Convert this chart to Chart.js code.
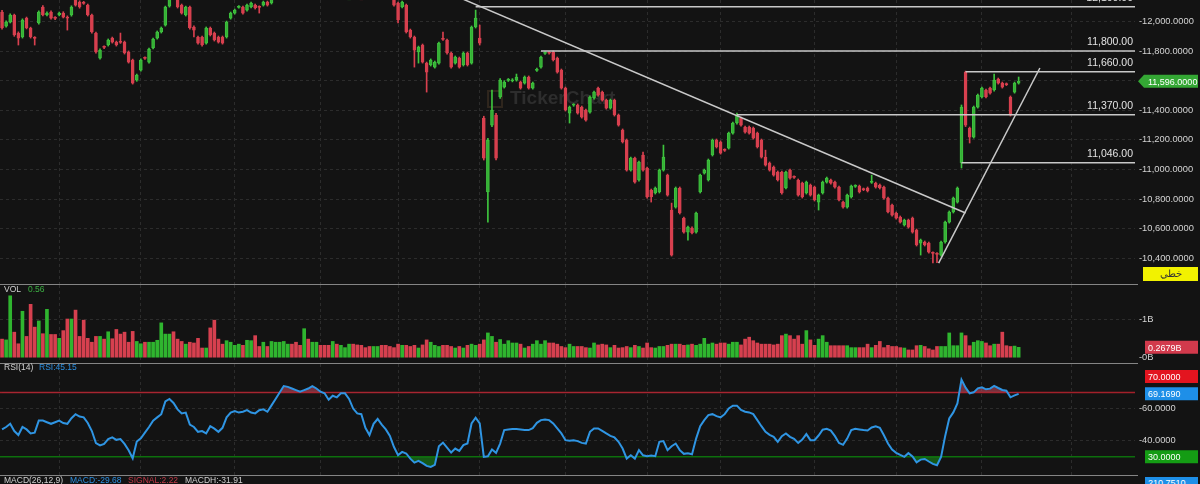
<!DOCTYPE html>
<html lang="ar">
<head>
<meta charset="utf-8">
<title>Price chart</title>
<script src="https://cdn.jsdelivr.net/npm/chart.js@4.4.1/dist/chart.umd.min.js"></script>
<style>
  html, body { margin: 0; padding: 0; background: #131313; }
  body { width: 1200px; height: 484px; position: relative; overflow: hidden; font-family: 'Liberation Sans', Arial, sans-serif; }
  canvas { position: absolute; left: 0; }
  .sep { position: absolute; left: 0; width: 1138px; height: 1px; background: #858585; }
  .hdr { position: absolute; font-size: 8.5px; line-height: 12px; color: #d0d0d0; white-space: nowrap; }
  .tag { position: absolute; left: 1145px; width: 50px; height: 13px; padding-left: 3px; font-size: 9px; line-height: 13px; color: #fff; }
</style>
</head>
<body>
<canvas id="priceChart" width="1200" height="284" style="top:0"></canvas>
<canvas id="volChart" width="1200" height="78" style="top:285px"></canvas>
<canvas id="rsiChart" width="1200" height="111" style="top:364px"></canvas>
<div class="sep" style="top:284px"></div>
<div class="sep" style="top:363px"></div>
<div class="sep" style="top:475px"></div>
<div class="hdr" style="left:4px;top:283px">VOL</div>
<div class="hdr" style="left:28px;top:283px;color:#3cb043">0.56</div>
<div class="hdr" style="left:4px;top:361px">RSI(14)</div>
<div class="hdr" style="left:39px;top:361px;color:#2d8fe0">RSI:45.15</div>
<div class="hdr" style="left:4px;top:474px">MACD(26,12,9)</div>
<div class="hdr" style="left:70px;top:474px;color:#2d8fe0">MACD:-29.68</div>
<div class="hdr" style="left:128px;top:474px;color:#c23a48">SIGNAL:2.22</div>
<div class="hdr" style="left:185px;top:474px">MACDH:-31.91</div>
<div class="tag" style="top:477px;background:#1e8fe8">210.7510</div>
<script>
// candles, oldest first
const opens = [
  12064, 11969, 11996, 12044, 11922, 11895, 12023, 11956, 11891, 11990,
  12098, 12044, 12064, 12025, 12044, 12057, 12030, 12044, 12150, 12131,
  12127, 12111, 12044, 11922, 11753, 11829, 11841, 11888, 11861, 11863,
  11861, 11794, 11740, 11604, 11672, 11755, 11726, 11821, 11888, 11929,
  11976, 12104, 12200, 12150, 12111, 12044, 12098, 11963, 11895, 11895,
  11854, 11956, 11922, 11895, 11895, 11895, 12023, 12057, 12096, 12098,
  12077, 12098, 12111, 12099, 12111, 12131, 12125, 12155, 12210, 12265,
  12320, 12345, 12325, 12305, 12290, 12340, 12325, 12375, 12395, 12370,
  12355, 12320, 12350, 12340, 12365, 12380, 12385, 12330, 12300, 12295,
  12250, 12205, 12250, 12280, 12255, 12220, 12170, 12125, 12098, 12111,
  11942, 11895, 11794, 11841, 11719, 11706, 11692, 11719, 11883, 11875,
  11787, 11719, 11753, 11706, 11787, 11719, 11963, 11888, 11348, 10848,
  11300, 11368, 11490, 11557, 11602, 11600, 11604, 11591, 11584, 11625,
  11550, 11670, 11692, 11785, 11790, 11794, 11753, 11672, 11550, 11381,
  11434, 11436, 11422, 11402, 11388, 11483, 11550, 11523, 11469, 11415,
  11469, 11368, 11267, 11199, 10996, 11077, 10929, 11098, 11010, 10861,
  10841, 10848, 10996, 10962, 10726, 10746, 10875, 10672, 10577, 10605,
  10577, 10848, 10976, 10929, 11098, 11199, 11186, 11133, 11145, 11246,
  11314, 11348, 11287, 11287, 11280, 11246, 11199, 11084, 11044, 11017,
  10983, 10983, 10875, 10996, 10951, 10929, 10908, 10841, 10895, 10881,
  10780, 10841, 10915, 10929, 10915, 10881, 10780, 10746, 10814, 10886,
  10888, 10868, 10875, 10913, 10908, 10895, 10881, 10807, 10760, 10706,
  10679, 10625, 10658, 10672, 10591, 10503, 10510, 10503, 10437, 10431,
  10422, 10510, 10645, 10713, 10780, 11044, 11658, 11280, 11219, 11422,
  11490, 11537, 11550, 11537, 11611, 11584, 11578, 11490, 11523, 11584
];
const highs = [
  12075, 12004, 12052, 12050, 11930, 12018, 12030, 11962, 11898, 12072,
  12108, 12066, 12072, 12034, 12064, 12066, 12038, 12106, 12160, 12140,
  12136, 12118, 12050, 11929, 11815, 11836, 11882, 11895, 11868, 11922,
  11868, 11801, 11746, 11645, 11747, 11762, 11821, 11888, 11936, 11963,
  12104, 12170, 12215, 12165, 12118, 12104, 12104, 11970, 11902, 11902,
  11963, 11963, 11929, 11902, 11902, 12003, 12064, 12084, 12108, 12104,
  12118, 12132, 12118, 12106, 12138, 12138, 12160, 12220, 12280, 12340,
  12355, 12350, 12330, 12310, 12350, 12345, 12390, 12405, 12400, 12375,
  12360, 12360, 12355, 12375, 12390, 12395, 12390, 12335, 12310, 12300,
  12255, 12260, 12290, 12285, 12260, 12225, 12180, 12132, 12138, 12118,
  11949, 11902, 11834, 11848, 11726, 11747, 11733, 11861, 11929, 11882,
  11794, 11767, 11760, 11794, 11794, 11970, 12077, 11976, 11360, 11210,
  11537, 11380, 11615, 11600, 11615, 11614, 11645, 11598, 11632, 11632,
  11591, 11686, 11767, 11796, 11797, 11801, 11760, 11679, 11557, 11429,
  11445, 11443, 11429, 11409, 11497, 11530, 11557, 11530, 11476, 11476,
  11476, 11375, 11274, 11206, 11084, 11084, 11057, 11118, 11017, 10868,
  10882, 11003, 11165, 10969, 10773, 10882, 10882, 10679, 10618, 10612,
  10713, 10969, 11003, 11071, 11206, 11206, 11193, 11140, 11253, 11321,
  11381, 11355, 11294, 11294, 11287, 11253, 11206, 11131, 11051, 11024,
  10990, 10990, 10990, 11003, 10958, 10936, 10915, 10922, 10902, 10888,
  10834, 10922, 10949, 10936, 10922, 10888, 10787, 10834, 10895, 10897,
  10895, 10875, 10882, 10962, 10915, 10902, 10888, 10814, 10767, 10713,
  10686, 10665, 10665, 10679, 10598, 10530, 10517, 10510, 10444, 10438,
  10517, 10652, 10720, 10814, 10882, 11436, 11665, 11287, 11429, 11510,
  11557, 11544, 11557, 11645, 11618, 11591, 11585, 11497, 11591, 11625
];
const lows = [
  11948, 11962, 11990, 11900, 11841, 11888, 11950, 11888, 11841, 11982,
  12038, 12037, 12016, 12012, 12038, 12024, 11942, 12036, 12104, 12090,
  12116, 12037, 11921, 11786, 11745, 11816, 11834, 11854, 11834, 11852,
  11780, 11719, 11577, 11596, 11665, 11744, 11719, 11814, 11881, 11922,
  11969, 12097, 12158, 12091, 12050, 12037, 11949, 11895, 11847, 11834,
  11847, 11902, 11868, 11854, 11847, 11888, 12016, 12050, 12090, 12050,
  12070, 12091, 12084, 12057, 12104, 12104, 12118, 12165, 12200, 12255,
  12310, 12310, 12290, 12280, 12285, 12315, 12318, 12365, 12360, 12345,
  12310, 12312, 12330, 12332, 12358, 12372, 12322, 12290, 12285, 12240,
  12195, 12198, 12245, 12248, 12212, 12172, 12104, 11990, 12091, 11922,
  11888, 11692, 11719, 11719, 11523, 11699, 11685, 11712, 11872, 11780,
  11685, 11712, 11685, 11699, 11699, 11712, 11956, 11841, 11064, 10645,
  11290, 11064, 11480, 11550, 11595, 11592, 11597, 11543, 11577, 11543,
  11543, 11662, 11685, 11778, 11779, 11733, 11651, 11543, 11395, 11314,
  11427, 11374, 11347, 11327, 11381, 11476, 11496, 11462, 11408, 11408,
  11361, 11293, 11179, 10989, 10989, 10908, 10922, 10989, 10807, 10780,
  10834, 10841, 10989, 10820, 10415, 10739, 10699, 10570, 10523, 10564,
  10570, 10841, 10969, 10922, 11091, 11145, 11104, 11122, 11138, 11239,
  11307, 11293, 11246, 11239, 11205, 11145, 11077, 11023, 10989, 10955,
  10922, 10834, 10868, 10935, 10940, 10820, 10807, 10834, 10820, 10787,
  10726, 10834, 10908, 10901, 10874, 10787, 10739, 10739, 10807, 10879,
  10841, 10857, 10848, 10906, 10874, 10868, 10800, 10706, 10685, 10665,
  10638, 10618, 10604, 10570, 10483, 10422, 10483, 10435, 10368, 10370,
  10415, 10503, 10638, 10706, 10773, 11010, 11290, 11179, 11212, 11415,
  11483, 11483, 11509, 11530, 11577, 11550, 11567, 11361, 11516, 11577
];
const closes = [
  11956, 11996, 12044, 11909, 11888, 12010, 11956, 11895, 11886, 12064,
  12044, 12057, 12023, 12021, 12057, 12030, 12023, 12098, 12111, 12098,
  12123, 12044, 11929, 11794, 11807, 11825, 11875, 11861, 11841, 11859,
  11787, 11726, 11584, 11638, 11740, 11751, 11814, 11881, 11929, 11956,
  12098, 12155, 12165, 12098, 12057, 12098, 11956, 11942, 11854, 11841,
  11956, 11909, 11875, 11861, 11854, 11996, 12057, 12077, 12100, 12057,
  12111, 12125, 12091, 12095, 12131, 12111, 12150, 12210, 12270, 12330,
  12345, 12320, 12300, 12290, 12340, 12325, 12380, 12395, 12370, 12355,
  12320, 12350, 12340, 12365, 12380, 12385, 12330, 12300, 12295, 12250,
  12205, 12250, 12280, 12255, 12220, 12180, 12111, 12010, 12131, 11929,
  11895, 11807, 11827, 11726, 11658, 11740, 11726, 11854, 11879, 11787,
  11692, 11760, 11692, 11787, 11706, 11963, 12023, 11854, 11077, 11199,
  11402, 11077, 11604, 11591, 11606, 11605, 11625, 11550, 11625, 11550,
  11584, 11674, 11760, 11789, 11786, 11740, 11658, 11550, 11402, 11422,
  11438, 11381, 11354, 11334, 11490, 11523, 11503, 11469, 11415, 11469,
  11368, 11300, 11186, 10996, 11077, 10915, 11050, 10996, 10814, 10814,
  10875, 10996, 11084, 10827, 10422, 10875, 10706, 10577, 10611, 10571,
  10706, 10962, 10996, 11064, 11199, 11152, 11111, 11129, 11246, 11314,
  11368, 11300, 11253, 11246, 11212, 11152, 11084, 11030, 10996, 10962,
  10929, 10841, 10983, 10942, 10947, 10827, 10814, 10915, 10827, 10794,
  10827, 10915, 10942, 10908, 10881, 10794, 10746, 10827, 10888, 10890,
  10848, 10864, 10855, 10917, 10881, 10875, 10807, 10713, 10692, 10672,
  10645, 10658, 10611, 10577, 10490, 10523, 10490, 10442, 10433, 10427,
  10510, 10645, 10713, 10807, 10875, 11422, 11300, 11219, 11422, 11503,
  11550, 11490, 11516, 11604, 11584, 11557, 11574, 11368, 11584, 11596
];
// volume in billions
const volumes = [
  0.48, 0.46, 1.6, 0.66, 0.36, 1.2, 0.55, 1.38, 0.79, 0.95,
  0.62, 1.25, 0.6, 0.6, 0.5, 0.7, 1.0, 1.0, 1.23, 0.55,
  0.97, 0.5, 0.4, 0.55, 0.55, 0.48, 0.67, 0.49, 0.73, 0.61,
  0.66, 0.4, 0.68, 0.42, 0.36, 0.4, 0.4, 0.4, 0.45, 0.9,
  0.61, 0.61, 0.67, 0.48, 0.42, 0.35, 0.4, 0.38, 0.5, 0.25,
  0.25, 0.77, 0.97, 0.48, 0.35, 0.44, 0.4, 0.32, 0.35, 0.32,
  0.45, 0.44, 0.57, 0.29, 0.4, 0.29, 0.42, 0.4, 0.4, 0.42,
  0.35, 0.35, 0.4, 0.32, 0.75, 0.48, 0.4, 0.4, 0.32, 0.32,
  0.32, 0.42, 0.35, 0.32, 0.26, 0.35, 0.35, 0.33, 0.32, 0.26,
  0.29, 0.29, 0.29, 0.32, 0.32, 0.29, 0.26, 0.35,
  0.32, 0.32, 0.29, 0.32, 0.25, 0.33, 0.46, 0.4, 0.32, 0.29,
  0.32, 0.32, 0.29, 0.25, 0.29, 0.25, 0.32, 0.35, 0.32, 0.35,
  0.46, 0.64, 0.55, 0.4, 0.47, 0.35, 0.44, 0.38, 0.38, 0.35,
  0.25, 0.29, 0.35, 0.44, 0.35, 0.44, 0.38, 0.38, 0.35, 0.29,
  0.26, 0.35, 0.29, 0.29, 0.29, 0.26, 0.25, 0.38, 0.33, 0.35,
  0.33, 0.26, 0.32, 0.25, 0.26, 0.29, 0.26, 0.32, 0.29, 0.25,
  0.38, 0.26, 0.25, 0.29, 0.29, 0.32, 0.35, 0.35, 0.35, 0.32,
  0.33, 0.35, 0.32, 0.35, 0.5, 0.35, 0.38, 0.35, 0.38, 0.38,
  0.35, 0.4, 0.4, 0.33, 0.48, 0.53, 0.44, 0.38, 0.35, 0.35,
  0.35, 0.33, 0.35,
  0.57, 0.61, 0.57, 0.48, 0.57, 0.35, 0.7, 0.46, 0.32, 0.48,
  0.57, 0.4, 0.31, 0.31, 0.31, 0.31, 0.31, 0.26, 0.26, 0.26,
  0.26, 0.35, 0.26, 0.32, 0.42, 0.26, 0.32, 0.29, 0.29, 0.26,
  0.25, 0.2, 0.2, 0.31, 0.32, 0.29, 0.23, 0.2, 0.29, 0.29,
  0.29, 0.64, 0.31, 0.31, 0.64, 0.57, 0.31, 0.4, 0.44, 0.42,
  0.38, 0.31, 0.35, 0.35, 0.66, 0.31, 0.29, 0.3, 0.2679
];
const rsi = [
  47, 48.5, 50.5, 46, 43.5, 48.5, 47, 44.5, 45, 52.5,
  52.5, 51.5, 50.5, 51.5, 52.5, 51, 50.5, 54, 56.5, 55,
  54.5, 51, 46, 38.5, 37, 38, 41, 42, 40.5, 41,
  38, 34, 29, 39.5, 41.5, 45, 48.5, 52.5, 54.5, 56.5,
  64.5, 66, 63.5, 59.5, 57, 57.5, 50, 48.5, 45.5, 46,
  44.5, 49, 47.5, 45.5, 48, 54.5, 57.5, 58.5, 57.5, 58,
  59, 57.5, 57, 59, 59.5, 58, 62, 66, 70, 74,
  73.5, 72.5, 71.5, 70.5, 71.5, 72.5, 74, 72.5, 70.5, 69.5,
  65.5, 68, 67, 69.5, 69.5, 66, 60, 57, 56.5, 48,
  43.5, 50.5, 53.5, 50, 47, 43, 36, 31,
  33, 32, 28.8, 26.3, 27.4, 26, 24.3, 23.6, 24.9, 36.5,
  38.8, 35.7, 32.6, 35.1, 33.6, 37.2, 38.2, 50.7, 54.3, 50.7,
  29.9, 30.3, 34.5, 32.4, 38.2, 46.6, 47, 47.2, 47.2, 47,
  46.6, 46.6, 47.8, 51.1, 52.8, 53.2, 52.8, 50.7, 47.6, 44.5,
  40.3, 39.9, 40.3, 39.7, 38.6, 38.2, 45.5, 47.6, 47.6, 46.1,
  44.5, 43, 42, 39.3, 35.1, 28.8, 30.9, 28.8, 34.1, 30.9,
  30.3, 30.7, 30.3, 39.3, 39.7, 34.1, 36.5, 38.2, 34.1, 31.8,
  32.2, 31.5, 41.3, 49, 52.8, 55.9, 56.5, 55.3, 54.5, 56.5,
  60.1, 61.8, 61.8, 59.1, 58, 57.6, 56.5, 52.8, 49, 45.5,
  43.6, 42.4, 39.3, 42.8, 44.5, 42.4, 41.1, 38.6,
  40.7, 44.1, 40.3, 40.3, 43.2, 46.8, 47.4, 46.3, 42.8, 38.6,
  37.4, 41.3, 46.6, 47.4, 47, 46.6, 46.3, 48.2, 49, 48,
  43.4, 38.2, 34.5, 32.4, 31.1, 29.9, 32.2, 30.1, 26.5, 28.2,
  28.6, 27, 25.5, 24.7, 29.9, 42.8, 53.8, 57.6, 63.2, 78,
  73, 69.5, 70.1, 72.6, 73.2, 72, 72.4, 74.1, 72.8, 71.6,
  71.1, 67, 68.2, 69.169
];

// tick labels and drawn levels
const priceTicks = [10400, 10600, 10800, 11000, 11200, 11400, 11600, 11800, 12000];
const volTicks = [0, 1];
const rsiTicks = [40, 60];
const rsiBands = [70, 30];
const levels = [12100, 11800, 11660, 11370, 11046];
const levelFrom = [116, 132, 236, 180, 235];          // candle where each level starts
const trendLines = [[113, 12150, 236, 10706], [229.4, 10368, 254.2, 11686]];
const gridIdx = [14, 34, 57, 78, 97, 117, 138, 158, 176, 199, 219, 240, 262];

const SLOTS = 278;   // empty room on the right of the last candle
const labels = Array.from({ length: SLOTS }, (_, i) => String(i));
const N = closes.length;

const FONT = "'Liberation Sans', Arial, sans-serif";
const GRID = '#2c2c2c';
const UP = '#3ec43e', DOWN = '#d8404f';
const LINE = '#c9c9c9';
Chart.defaults.font.family = FONT;

const up = closes.map((c, i) => c >= opens[i]);
const fmt = (v, d) => v.toLocaleString('en-US', { minimumFractionDigits: d, maximumFractionDigits: d });

const xAxis = () => ({
  type: 'category',
  offset: true,
  grid: { display: true, offset: false, color: GRID, drawTicks: false },
  border: { display: false, dash: [3, 3] },
  ticks: { display: false },
  afterBuildTicks: a => { a.ticks = gridIdx.map(v => ({ value: v })); },
  afterFit: a => { a.height = 0; a.paddingLeft = 0; a.paddingRight = 0; }
});

const yAxis = (min, max, ticks, label, gridColor) => ({
  position: 'right',
  min, max,
  afterBuildTicks: a => { a.ticks = ticks.map(v => ({ value: v })); },
  afterFit: a => { a.width = 65; a.paddingTop = 0; a.paddingBottom = 0; },
  grid: { color: gridColor || GRID, drawTicks: false },
  border: { display: false, dash: [3, 3] },
  ticks: { color: '#d4d4d4', padding: 4, font: { size: 9.3 }, callback: label }
});

const baseOptions = (scales) => ({
  responsive: false,
  animation: false,
  events: [],
  layout: { padding: 0 },
  plugins: { legend: { display: false }, tooltip: { enabled: false } },
  scales
});

function drawTag(ctx, x, y, text, bg, fg, arrow) {
  const h = 13, w = 53;
  ctx.save();
  ctx.fillStyle = bg;
  ctx.beginPath();
  if (arrow) {
    ctx.moveTo(x - 7, y);
    ctx.lineTo(x - 1, y - h / 2);
  } else {
    ctx.moveTo(x, y - h / 2);
  }
  ctx.lineTo(x + w, y - h / 2);
  ctx.lineTo(x + w, y + h / 2);
  ctx.lineTo(arrow ? x - 1 : x, y + h / 2);
  ctx.closePath();
  ctx.fill();
  ctx.fillStyle = fg;
  ctx.font = `9px ${FONT}`;
  ctx.textBaseline = 'middle';
  ctx.fillText(text, x + 3, y + 1);
  ctx.restore();
}

const priceOverlay = {
  id: 'priceOverlay',
  beforeDatasetsDraw(chart) {
    const { ctx, chartArea: a } = chart;
    const wx = a.left + a.width * 0.43, wy = 99;
    ctx.save();
    ctx.strokeStyle = 'rgba(150,110,70,0.22)';
    ctx.lineWidth = 2;
    ctx.strokeRect(wx, wy - 8, 14, 16);
    ctx.fillStyle = 'rgba(150,150,150,0.2)';
    ctx.font = `bold 19px ${FONT}`;
    ctx.textBaseline = 'middle';
    ctx.fillText('TickerChart', wx + 22, wy);
    ctx.restore();
  },
  afterDatasetsDraw(chart) {
    const { ctx, chartArea: a, scales: { x, y } } = chart;
    ctx.save();
    ctx.beginPath();
    ctx.rect(a.left, a.top, a.width, a.height);
    ctx.clip();
    ctx.strokeStyle = LINE;
    ctx.lineWidth = 1.5;
    levels.forEach((lv, i) => {
      const py = y.getPixelForValue(lv);
      ctx.beginPath();
      ctx.moveTo(x.getPixelForValue(levelFrom[i]), py);
      ctx.lineTo(a.right, py);
      ctx.stroke();
    });
    trendLines.forEach(([i1, p1, i2, p2]) => {
      ctx.beginPath();
      ctx.moveTo(x.getPixelForValue(i1), y.getPixelForValue(p1));
      ctx.lineTo(x.getPixelForValue(i2), y.getPixelForValue(p2));
      ctx.stroke();
    });
    ctx.fillStyle = '#e2e2e2';
    ctx.font = `10.5px ${FONT}`;
    ctx.textAlign = 'right';
    ctx.textBaseline = 'middle';
    levels.forEach(lv => ctx.fillText(fmt(lv, 2), a.right - 2, y.getPixelForValue(lv) - 9));
    ctx.restore();
  },
  afterDraw(chart) {
    const { ctx, chartArea: a, scales: { y } } = chart;
    const last = closes[N - 1];
    drawTag(ctx, a.right + 10, y.getPixelForValue(last), fmt(last, 4), '#34a734', '#ffffff', true);
    ctx.save();
    ctx.fillStyle = '#f2f200';
    ctx.fillRect(a.right + 8, a.bottom - 17, 55, 14);
    ctx.fillStyle = '#333';
    ctx.font = `10px ${FONT}`;
    ctx.textAlign = 'center';
    ctx.textBaseline = 'middle';
    ctx.fillText('خطي', a.right + 36, a.bottom - 10);
    ctx.restore();
  }
};

new Chart(document.getElementById('priceChart'), {
  type: 'bar',
  data: {
    labels,
    datasets: [
      {
        data: lows.map((l, i) => [l, highs[i]]),
        backgroundColor: up.map(u => u ? UP : DOWN),
        barThickness: 1,
        grouped: false,
        order: 2
      },
      {
        data: opens.map((o, i) => [o, closes[i]]),
        backgroundColor: up.map(u => u ? 'rgba(46,150,46,0.45)' : DOWN),
        borderColor: up.map(u => u ? UP : DOWN),
        borderWidth: 1,
        borderSkipped: false,
        barThickness: 3,
        minBarLength: 1,
        grouped: false,
        order: 1
      }
    ]
  },
  options: baseOptions({
    x: xAxis(),
    y: yAxis(10226.4, 12145.3, priceTicks, v => '-' + fmt(v, 4))
  }),
  plugins: [priceOverlay]
});

const volOverlay = {
  id: 'volOverlay',
  afterDraw(chart) {
    const { ctx, chartArea: a, scales: { y } } = chart;
    const last = volumes[N - 1];
    drawTag(ctx, a.right + 10, y.getPixelForValue(last), last.toFixed(4) + 'B', '#d23a4c', '#ffffff', false);
  }
};

new Chart(document.getElementById('volChart'), {
  type: 'bar',
  data: {
    labels,
    datasets: [{
      data: volumes,
      backgroundColor: up.map(u => u ? '#2fb52f' : '#d6404f'),
      barThickness: 3
    }]
  },
  options: baseOptions({
    x: xAxis(),
    y: yAxis(-0.137, 1.879, volTicks, v => '-' + v + 'B', c => c.tick && c.tick.value === 0 ? 'rgba(0,0,0,0)' : GRID)
  }),
  plugins: [volOverlay]
});

const rsiOverlay = {
  id: 'rsiOverlay',
  beforeDatasetsDraw(chart) {
    const { ctx, chartArea: a, scales: { y } } = chart;
    ctx.save();
    ctx.lineWidth = 1.5;
    [['#a3202a', rsiBands[0]], ['#0d6e0d', rsiBands[1]]].forEach(([col, v]) => {
      const py = y.getPixelForValue(v);
      ctx.strokeStyle = col;
      ctx.beginPath();
      ctx.moveTo(a.left, py);
      ctx.lineTo(a.right, py);
      ctx.stroke();
    });
    ctx.restore();
  },
  afterDraw(chart) {
    const { ctx, chartArea: a, scales: { y } } = chart;
    const tx = a.right + 10;
    const last = rsi[N - 1];
    drawTag(ctx, tx, y.getPixelForValue(rsiBands[0]) - 16, rsiBands[0].toFixed(4), '#e3141f', '#ffffff', false);
    drawTag(ctx, tx, y.getPixelForValue(last), last.toFixed(4), '#1e8fe8', '#ffffff', false);
    drawTag(ctx, tx, y.getPixelForValue(rsiBands[1]), rsiBands[1].toFixed(4), '#149c14', '#ffffff', false);
  }
};

new Chart(document.getElementById('rsiChart'), {
  type: 'line',
  data: {
    labels,
    datasets: [
      {
        data: rsi,
        borderColor: '#2f95e3',
        borderWidth: 2,
        pointRadius: 0,
        tension: 0,
        fill: { target: { value: rsiBands[0] }, above: 'rgba(200,75,95,0.55)', below: 'rgba(0,0,0,0)' }
      },
      {
        data: rsi,
        borderColor: 'rgba(0,0,0,0)',
        borderWidth: 0,
        pointRadius: 0,
        tension: 0,
        fill: { target: { value: rsiBands[1] }, above: 'rgba(0,0,0,0)', below: 'rgba(25,135,25,0.6)' }
      }
    ]
  },
  options: baseOptions({
    x: xAxis(),
    y: yAxis(18.6, 87.76, rsiTicks, v => '-' + v.toFixed(4))
  }),
  plugins: [rsiOverlay]
});
</script>
</body>
</html>
